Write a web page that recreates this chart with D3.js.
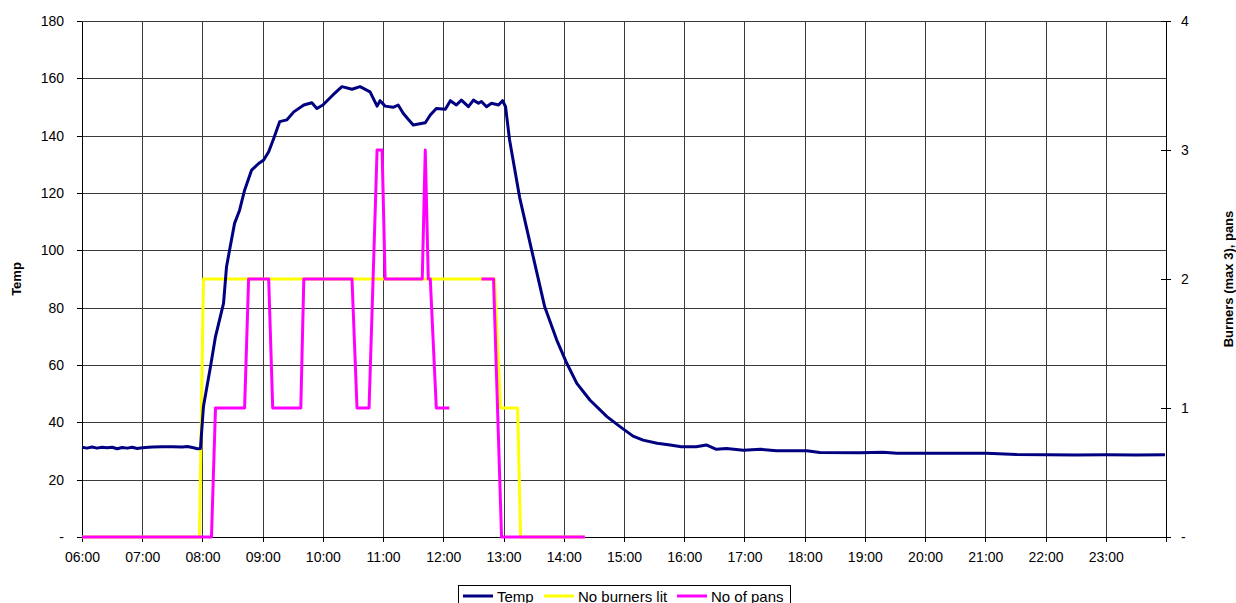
<!DOCTYPE html>
<html>
<head>
<meta charset="utf-8">
<script src="https://cdn.jsdelivr.net/npm/d3@7"></script>
<style>
  html, body { margin: 0; padding: 0; background: #fff; }
  svg { display: block; font-family: "Liberation Sans", Arial, sans-serif; }
</style>
</head>
<body>
<svg id="chart" width="1236" height="603"></svg>
<script>
// Oven / hob log: temperature, burners lit and pans in use through the day
const hourLabels = ["06:00","07:00","08:00","09:00","10:00","11:00","12:00","13:00","14:00",
                    "15:00","16:00","17:00","18:00","19:00","20:00","21:00","22:00","23:00"];
const tempTickLabels = ["-","20","40","60","80","100","120","140","160","180"];
const countTickLabels = ["-","1","2","3","4"];

const tempTimes = ["06:00","06:05","06:10","06:15","06:20","06:25","06:30","06:35","06:40","06:45",
  "06:50","06:55","07:00","07:10","07:20","07:30","07:40","07:45","07:50","07:55","07:58",
  "08:01","08:08","08:13","08:21","08:24","08:27","08:32","08:37","08:42","08:49","08:56",
  "09:01","09:06","09:11","09:17","09:24","09:31","09:41","09:49","09:54","10:00","10:10",
  "10:19","10:29","10:37","10:47","10:54","10:57","11:02","11:10","11:15","11:20","11:25",
  "11:30","11:42","11:47","11:53","12:02","12:07","12:13","12:18","12:25","12:30","12:35",
  "12:38","12:43","12:48","12:55","12:59","13:02","13:06","13:16","13:28","13:41","13:53",
  "14:03","14:13","14:26","14:43","14:56","15:09","15:19","15:33","15:46","15:57","16:12",
  "16:22","16:32","16:42","16:59","17:16","17:32","18:02","18:15","18:55","19:18","19:32",
  "20:32","21:01","21:31","22:01","22:30","23:00","23:30","23:59"];
const tempValues = [31.3,31.0,31.4,31.0,31.3,31.1,31.3,30.8,31.2,31.0,
  31.3,30.9,31.1,31.4,31.5,31.5,31.4,31.6,31.2,30.8,30.9,
  45.5,59.4,69.9,81.5,94.3,100.0,109.4,114.0,121.0,128.0,130.3,
  131.5,134.4,139.0,144.9,145.5,148.3,150.7,151.5,149.5,150.7,154.2,
  157.1,156.2,157.1,155.3,150.3,152.2,150.3,149.9,150.7,147.8,145.7,
  143.7,144.5,147.2,149.5,149.2,152.2,150.7,152.4,150.1,152.4,151.3,
  151.9,150.1,151.3,150.7,152.2,150.1,138.5,118.5,100.1,80.3,68.7,
  60.6,53.6,47.8,42.0,38.5,35.2,33.8,32.7,32.1,31.5,31.5,
  32.1,30.6,30.9,30.3,30.6,30.1,30.1,29.5,29.4,29.6,29.2,
  29.2,29.2,28.8,28.7,28.6,28.7,28.6,28.7];

const burnerTimes  = ["06:00","07:57","08:01","12:51","12:57","13:14","13:17","14:21"];
const burnerValues = [0, 0, 2, 2, 1, 1, 0, 0];

// null marks the gap where no pan count was recorded
const panTimes  = ["06:00","08:09","08:13","08:42","08:46","09:06","09:10","09:38","09:41","10:29",
  "10:34","10:46","10:54","10:59","11:02","11:39","11:42","11:45","11:47","11:53","12:06",
  "12:20","12:38","12:50","12:58","14:21"];
const panValues = [0,0,1,1,2,2,1,1,2,2,
  1,1,3,3,2,2,3,2,2,1,1,
  null,2,2,0,0];

const seriesNames  = ["Temp","No burners lit","No of pans"];
const seriesColors = ["#000080","#FFFF00","#FF00FF"];

const parse = d3.timeParse("%Y-%m-%d %H:%M");
const toDate = t => parse("2000-01-01 " + t);
const zip = (ts, vs) => ts.map((t, i) => ({ t: toDate(t), v: vs[i] }));

const W = 1236, H = 603;
const plotL = 82, plotR = 1166, plotT = 21, plotB = 537;

const svg = d3.select("#chart");
svg.append("rect").attr("width", W).attr("height", H).attr("fill", "#fff");

const x = d3.scaleTime()
  .domain([toDate("06:00"), new Date(2000, 0, 2, 0, 0)])
  .range([plotL, plotR]);
const yT = d3.scaleLinear().domain([0, 180]).range([plotB, plotT]);
const yC = d3.scaleLinear().domain([0, 4]).range([plotB, plotT]);

const hourTicks = d3.range(6, 25).map(h => new Date(2000, 0, 1, h, 0));
const tempTicks = d3.range(0, 181, 20);
const countTicks = d3.range(0, 5);

// gridlines
const grid = svg.append("g").attr("stroke", "#3a3a3a").attr("stroke-width", 1).attr("shape-rendering", "crispEdges");
grid.selectAll(".gx").data(hourTicks.slice(1, -1)).join("line")
  .attr("x1", d => Math.round(x(d)) + 0.5).attr("x2", d => Math.round(x(d)) + 0.5)
  .attr("y1", plotT).attr("y2", plotB);
grid.selectAll(".gy").data(tempTicks.slice(1)).join("line")
  .attr("x1", plotL).attr("x2", plotR)
  .attr("y1", d => Math.round(yT(d)) + 0.5).attr("y2", d => Math.round(yT(d)) + 0.5);

// axes
const fmtIdx = (arr, ticks) => d => arr[ticks.indexOf(d)];

const xAxis = d3.axisBottom(x).tickValues(hourTicks)
  .tickFormat((d, i) => hourLabels[i] || "").tickSizeInner(5).tickSizeOuter(0).tickPadding(10);
const gx = svg.append("g").attr("transform", `translate(0,${plotB})`).call(xAxis);

const yAxisL = d3.axisLeft(yT).tickValues(tempTicks)
  .tickFormat(fmtIdx(tempTickLabels, tempTicks)).tickSizeInner(5).tickSizeOuter(0).tickPadding(13);
const gyl = svg.append("g").attr("transform", `translate(${plotL},0)`).call(yAxisL);

const yAxisR = d3.axisRight(yC).tickValues(countTicks)
  .tickFormat(fmtIdx(countTickLabels, countTicks)).tickSizeInner(5).tickSizeOuter(0).tickPadding(10);
const gyr = svg.append("g").attr("transform", `translate(${plotR},0)`).call(yAxisR);
gyr.selectAll(".tick line").attr("x1", -5);

[gx, gyl, gyr].forEach(g => {
  g.selectAll("path, line").attr("stroke", "#000").attr("shape-rendering", "crispEdges");
  g.selectAll("text").attr("font-size", 14).attr("fill", "#000")
    .attr("font-family", "'Liberation Sans', Arial, sans-serif");
});

// axis titles
svg.append("text").attr("transform", `translate(21,${(plotT + plotB) / 2}) rotate(-90)`)
  .attr("text-anchor", "middle").attr("font-size", 13).attr("font-weight", "bold").text("Temp");
svg.append("text").attr("transform", `translate(1233,${(plotT + plotB) / 2}) rotate(-90)`)
  .attr("text-anchor", "middle").attr("font-size", 13).attr("font-weight", "bold").text("Burners (max 3), pans");

// series
const lineC = d3.line().defined(d => d.v !== null).x(d => x(d.t)).y(d => yC(d.v));
const lineT = d3.line().x(d => x(d.t)).y(d => yT(d.v));

svg.append("path").datum(zip(burnerTimes, burnerValues)).attr("d", lineC)
  .attr("fill", "none").attr("stroke", seriesColors[1]).attr("stroke-width", 3).attr("stroke-linejoin", "round");
svg.append("path").datum(zip(panTimes, panValues)).attr("d", lineC)
  .attr("fill", "none").attr("stroke", seriesColors[2]).attr("stroke-width", 3).attr("stroke-linejoin", "round");
svg.append("path").datum(zip(tempTimes, tempValues)).attr("d", lineT)
  .attr("fill", "none").attr("stroke", seriesColors[0]).attr("stroke-width", 3).attr("stroke-linejoin", "round");

// legend
const lg = svg.append("g");
lg.append("rect").attr("x", 458.5).attr("y", 585.5).attr("width", 332).attr("height", 24)
  .attr("fill", "#fff").attr("stroke", "#000");
const legendX = [463, 544, 677];
seriesNames.forEach((name, i) => {
  lg.append("line").attr("x1", legendX[i]).attr("x2", legendX[i] + 30)
    .attr("y1", 596).attr("y2", 596).attr("stroke", seriesColors[i]).attr("stroke-width", 3);
  lg.append("text").attr("x", legendX[i] + 34).attr("y", 601.5).attr("font-size", 15).text(name);
});
</script>
</body>
</html>
